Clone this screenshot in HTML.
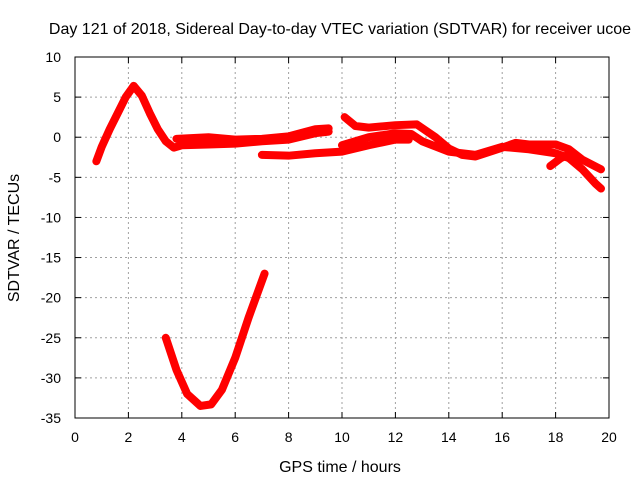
<!DOCTYPE html>
<html><head><meta charset="utf-8"><style>
body{margin:0;background:#fff;font-family:"Liberation Sans",sans-serif}
svg text{font-family:"Liberation Sans",sans-serif;font-size:14px;fill:#000}
svg text.big{font-size:16px}
</style></head><body>
<svg id="c" width="640" height="480">
<text class="big" x="340" y="34" text-anchor="middle">Day 121 of 2018, Sidereal Day-to-day VTEC variation (SDTVAR) for receiver ucoe</text>
<text class="big" x="340" y="472" text-anchor="middle">GPS time / hours</text>
<text class="big" transform="translate(19,238) rotate(-90)" text-anchor="middle">SDTVAR / TECUs</text>
<g id="grid"></g><g id="series"></g><g id="axes"></g>
</svg>
<script>
const xTicks=[0,2,4,6,8,10,12,14,16,18,20];
const yTicks=[10,5,0,-5,-10,-15,-20,-25,-30,-35];
const seriesA=[[0.8,-3],[1.0,-1.2],[1.3,1],[1.6,3],[1.9,5],[2.2,6.4],[2.5,5.2],[2.8,3],[3.1,1],[3.4,-0.5],[3.7,-1.3],[4,-1],[5,-0.9],[6,-0.8],[7,-0.5],[8,-0.3],[9,0.5],[9.5,0.7]];
const seriesB=[[3.8,-0.2],[5,0],[6,-0.3],[7,-0.2],[8,0.1],[9,1],[9.5,1.1]];
const seriesC=[[7,-2.2],[8,-2.3],[9,-2],[10,-1.8],[11,-1],[12,-0.3],[12.5,-0.3]];
const seriesD=[[10.1,2.5],[10.5,1.4],[11,1.2],[12,1.5],[12.8,1.6],[13.5,0],[14,-1.4],[14.5,-2.2],[15,-2.4],[16,-1.3],[16.5,-0.7],[17,-0.9],[18,-0.9],[18.5,-1.5],[19,-2.8],[19.7,-4]];
const seriesE=[[10,-1],[11,0],[12,0.5],[12.6,0.4],[13,-0.5],[14,-1.8],[15,-2.2],[16,-1.2],[17,-1.5],[18,-2],[18.5,-2.6],[19,-4],[19.5,-5.8],[19.7,-6.4]];
const seriesF=[[17.8,-3.6],[18.2,-2.6],[18.6,-2]];
const seriesG=[[3.4,-25],[3.8,-29],[4.2,-32],[4.7,-33.5],[5.1,-33.3],[5.5,-31.5],[6,-27.5],[6.5,-22.5],[7.1,-17]];
const allSeries=[seriesA,seriesB,seriesC,seriesD,seriesE,seriesF,seriesG];
const X0=75,X1=609,Y0=57,Y1=418;
const sx=v=>X0+(v-0)/20*(X1-X0);
const sy=v=>Y0+(10-v)/45*(Y1-Y0);
const NS="http://www.w3.org/2000/svg";
const grid=document.getElementById('grid'),axes=document.getElementById('axes'),ser=document.getElementById('series');
function mk(tag,attrs,parent){const e=document.createElementNS(NS,tag);for(const k in attrs)e.setAttribute(k,attrs[k]);parent.appendChild(e);return e;}
xTicks.forEach(t=>{const x=sx(t);
 if(t>0&&t<20){const g=mk('line',{x1:x,x2:x,y1:Y0,y2:Y1,stroke:'#a0a0a0','stroke-dasharray':'2,3'},grid);
 
 }
 mk('line',{x1:x,x2:x,y1:Y1,y2:Y1-6,stroke:'#000'},axes);mk('line',{x1:x,x2:x,y1:Y0,y2:Y0+6,stroke:'#000'},axes);
 const l=mk('text',{x:x,y:Y1+24,'text-anchor':'middle'},axes);l.textContent=t;
 
 });
yTicks.forEach(t=>{const y=sy(t);
 if(t<10&&t>-35){const g=mk('line',{x1:X0,x2:X1,y1:y,y2:y,stroke:'#a0a0a0','stroke-dasharray':'2,3'},grid);
 
 }
 mk('line',{x1:X0,x2:X0+6,y1:y,y2:y,stroke:'#000'},axes);mk('line',{x1:X1,x2:X1-6,y1:y,y2:y,stroke:'#000'},axes);
 const l=mk('text',{x:X0-14,y:y+5,'text-anchor':'end'},axes);l.textContent=t;
 
 });
const fr=mk('rect',{x:X0,y:Y0,width:X1-X0,height:Y1-Y0,fill:'none',stroke:'#000'},axes);


allSeries.forEach((s,i)=>{const p=mk('polyline',{points:s.map(d=>sx(d[0])+','+sy(d[1])).join(' '),fill:'none',stroke:'#ff0000','stroke-width':8,'stroke-linejoin':'round','stroke-linecap':'round'},ser);
 
 });
</script>
</body></html>
